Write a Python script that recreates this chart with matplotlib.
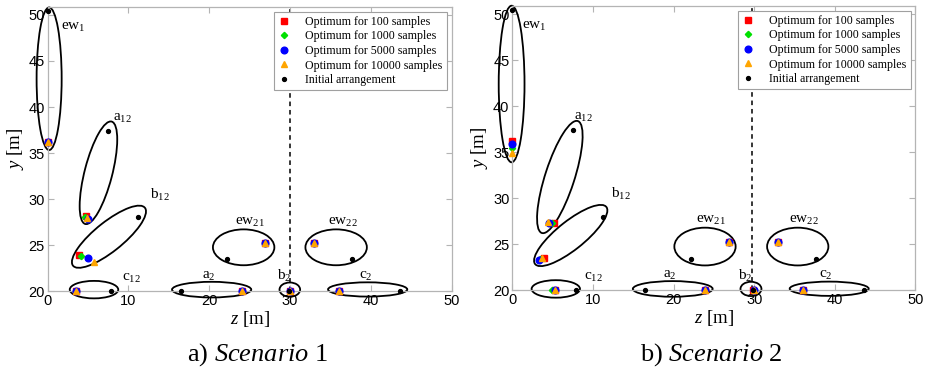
import matplotlib

matplotlib.use("Agg")
import matplotlib.pyplot as plt
from matplotlib.patches import Ellipse

plt.rcParams["font.family"] = "Liberation Serif"
plt.rcParams["mathtext.fontset"] = "custom"
plt.rcParams["mathtext.rm"] = "Liberation Serif"
plt.rcParams["mathtext.it"] = "Liberation Serif:italic"

FRAME = "#b4b4b4"
COLORS = ["#ff0000", "#00e000", "#0000ff", "#ffa500"]
MARKERS = ["s", "D", "o", "^"]
SIZES = [4.0, 3.2, 4.8, 4.8]
SERIES = ["Optimum for 100 samples", "Optimum for 1000 samples",
          "Optimum for 5000 samples", "Optimum for 10000 samples"]

# variables: ew1, a12, b12, c12, a2, b2, c2, ew21, ew22
z_init = [0.0, 7.5, 11.2, 7.9, 16.5, 29.85, 43.6, 22.2, 37.7]
y_init = [50.45, 37.4, 28.0, 20.0, 20.0, 20.0, 20.0, 23.45, 23.45]

# scenario 1 optima (100, 1000, 5000, 10000 samples)
s1_z = [
    [0.0, 4.7, 3.9, 3.5, 24.0, 30.0, 36.0, 26.9, 32.9],
    [0.0, 4.65, 4.15, 3.5, 24.0, 30.0, 36.0, 26.9, 32.9],
    [0.0, 4.95, 5.0, 3.5, 24.0, 30.05, 36.0, 26.9, 32.9],
    [0.0, 4.85, 5.7, 3.5, 24.0, 30.05, 36.0, 26.9, 32.9],
]
s1_y = [
    [36.2, 28.15, 23.9, 20.0, 20.0, 20.0, 20.0, 25.2, 25.2],
    [36.2, 28.0, 23.8, 20.0, 20.0, 20.0, 20.0, 25.2, 25.2],
    [36.2, 27.8, 23.6, 20.0, 20.0, 20.0, 20.0, 25.2, 25.2],
    [36.2, 27.95, 23.2, 20.0, 20.0, 20.0, 20.0, 25.2, 25.2],
]

# scenario 2 optima
s2_z = [
    [0.0, 5.2, 3.9, 5.35, 23.9, 29.8, 36.0, 26.9, 32.9],
    [0.0, 4.95, 3.4, 4.95, 23.9, 30.0, 36.0, 26.9, 32.9],
    [0.0, 4.6, 3.35, 5.35, 23.9, 30.0, 36.0, 26.9, 32.9],
    [0.0, 4.4, 3.65, 5.35, 23.9, 30.0, 36.0, 26.9, 32.9],
]
s2_y = [
    [36.2, 27.3, 23.55, 20.0, 20.0, 20.0, 20.0, 25.2, 25.2],
    [35.5, 27.3, 23.45, 20.0, 20.0, 20.0, 20.0, 25.2, 25.2],
    [35.9, 27.3, 23.3, 20.0, 20.0, 20.0, 20.0, 25.2, 25.2],
    [34.9, 27.4, 23.5, 20.0, 20.0, 20.0, 20.0, 25.2, 25.2],
]

labels = ["ew$_1$", "a$_{12}$", "b$_{12}$", "c$_{12}$", "a$_2$", "b$_2$",
          "c$_2$", "ew$_{21}$", "ew$_{22}$"]

# grouping ellipses: (cx, cy, width, height, angle)
s1_ell = [
    (0.2, 43.07, 3.1, 15.5, 0), (6.3, 32.85, 11.6, 3.4, 73.4),
    (7.6, 25.9, 10.9, 3.3, 34.6), (5.75, 20.15, 6.0, 1.9, 0),
    (20.3, 20.15, 9.8, 1.7, 0), (29.97, 20.15, 2.55, 1.55, 0),
    (39.6, 20.17, 9.8, 1.55, 0), (24.26, 24.75, 7.6, 3.9, 0),
    (35.7, 24.75, 7.6, 3.9, 0),
]
s2_ell = [
    (-0.08, 42.4, 3.2, 17.0, 0), (5.9, 32.3, 12.95, 3.6, 69.5),
    (7.25, 25.95, 10.8, 3.2, 34.4), (5.4, 20.15, 6.0, 1.9, 0),
    (19.9, 20.15, 9.9, 1.7, 0), (29.6, 20.15, 2.6, 1.55, 0),
    (39.3, 20.17, 9.8, 1.55, 0), (23.9, 24.75, 7.6, 4.1, 0),
    (35.4, 24.75, 7.6, 4.1, 0),
]
s1_lab = [(1.7, 48.7), (8.1, 38.8), (12.7, 30.4), (9.2, 21.4), (19.1, 21.6),
          (28.4, 21.6), (38.5, 21.6), (23.2, 27.5), (34.7, 27.5)]
s2_lab = [(1.25, 48.7), (7.7, 38.8), (12.3, 30.5), (8.9, 21.4), (18.7, 21.6),
          (28.0, 21.6), (38.05, 21.6), (22.8, 27.6), (34.3, 27.6)]


def panel(ax, oz, oy, ells, labpos, xdash):
    for (cx, cy, w, h, ang) in ells:
        ax.add_patch(Ellipse((cx, cy), w, h, angle=ang, fill=False, ec="black",
                             lw=1.3, clip_on=False, zorder=2))
    ax.plot([xdash, xdash], [20, 51], ls=(0, (3, 2.5)), color="black", lw=1.1,
            clip_on=False, zorder=1)
    for k in range(4):
        ax.plot(oz[k], oy[k], ls="none", marker=MARKERS[k], ms=SIZES[k],
                color=COLORS[k], mec=COLORS[k], label=SERIES[k], clip_on=False, zorder=3 + k)
    ax.plot(z_init, y_init, ls="none", marker="o", ms=2.8, color="black",
            label="Initial arrangement", clip_on=False, zorder=8)
    for (tx, ty), t in zip(labpos, labels):
        ax.text(tx, ty, t, ha="left", va="center", fontsize=11)

    ax.set_xlim(0, 50)
    ax.set_ylim(20, 50.9)
    ax.set_xticks([0, 10, 20, 30, 40, 50])
    ax.set_yticks([20, 25, 30, 35, 40, 45, 50])
    for s in ax.spines.values():
        s.set_color(FRAME)
        s.set_linewidth(0.9)
    ax.tick_params(direction="in", length=4, width=0.8, color=FRAME, top=True,
                   right=True, labelsize=10.5, pad=2)
    for lab in ax.get_xticklabels() + ax.get_yticklabels():
        lab.set_family("Liberation Sans")
    ax.set_xlabel("$z$ [m]", fontsize=13.5, labelpad=1)
    ax.set_ylabel("$y$ [m]", fontsize=13.5, labelpad=2)
    leg = ax.legend(loc="upper right", bbox_to_anchor=(0.988, 0.983), fontsize=8.6,
                    frameon=True, fancybox=False, framealpha=1, edgecolor="#a0a0a0",
                    handlelength=1.0, handletextpad=1.3, labelspacing=0.22,
                    borderpad=0.35, borderaxespad=0)
    leg.get_frame().set_linewidth(0.8)


fig = plt.figure(figsize=(9.28, 3.71), dpi=100)
ax1 = fig.add_axes([0.0512, 0.2156, 0.4356, 0.7663])
ax2 = fig.add_axes([0.5520, 0.2175, 0.4345, 0.7671])
panel(ax1, s1_z, s1_y, s1_ell, s1_lab, 30.0)
panel(ax2, s2_z, s2_y, s2_ell, s2_lab, 29.75)

fig.text(0.277, 0.043, "a) $\\mathit{Scenario}$ 1", ha="center", va="center", fontsize=19)
fig.text(0.767, 0.043, "b) $\\mathit{Scenario}$ 2", ha="center", va="center", fontsize=19)

fig.savefig("out.png", dpi=100)
